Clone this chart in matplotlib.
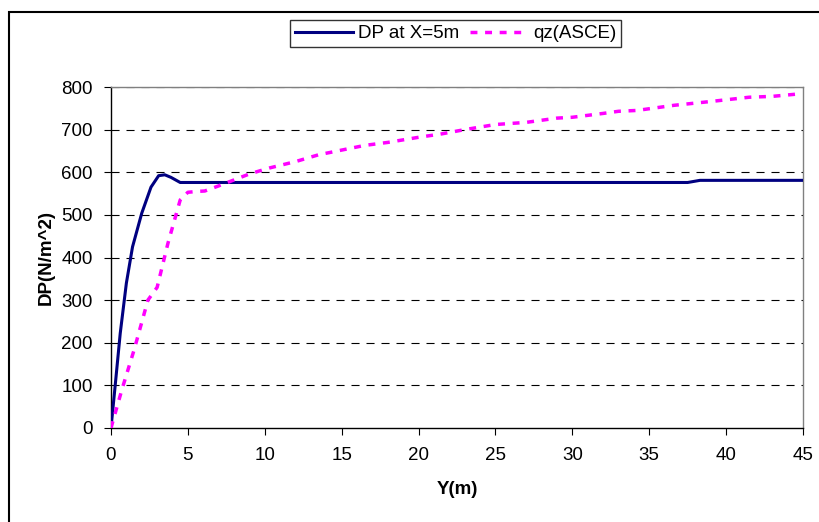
import matplotlib
matplotlib.use("Agg")
import matplotlib.pyplot as plt
from matplotlib.patches import Rectangle

# DP at X=5m (navy solid)
dp_y = [0, 0.3, 0.6, 1.0, 1.4, 2.0, 2.6, 3.1, 3.5, 3.9, 4.5, 10, 20, 30, 37.5, 38.3, 45]
dp_val = [0, 110, 222, 340, 425, 504, 565, 592, 594, 588, 576, 576, 576, 576, 576, 581, 581]

# qz (ASCE) (magenta dashed)
qz_y = [0, 0.7, 1.5, 2.4, 3.0, 3.7, 4.5, 5.0, 5.6, 6.1, 7.0, 8.0, 9.0, 10.3, 12.0, 13.5,
        15.0, 16.5, 18.0, 20.0, 21.5, 23.0, 25.0, 27.0, 29.0, 30.0, 32.0, 33.0, 34.2,
        36.6, 39.0, 41.5, 43.0, 44.5]
qz_val = [0, 89, 183, 300, 330, 433, 535, 553, 555, 556, 568, 582, 596, 610, 625, 641,
          652, 663, 670, 682, 690, 700, 712, 717, 727, 729, 738, 743, 745,
          757, 766, 776, 778, 783]

x_ticks = [0, 5, 10, 15, 20, 25, 30, 35, 40, 45]
y_ticks = [0, 100, 200, 300, 400, 500, 600, 700, 800]

plt.rcParams["font.family"] = ["Liberation Sans", "DejaVu Sans"]
plt.rcParams["lines.scale_dashes"] = False

W, H = 819, 522
fig = plt.figure(figsize=(W / 100, H / 100), dpi=100)
ax = fig.add_axes([111 / W, 1 - 428 / H, (803 - 111) / W, (428 - 87) / H])

for v in y_ticks[1:]:
    ax.axhline(v, color="black", lw=0.8, linestyle=(0, (5.8, 5.0)), zorder=1)

ax.plot(dp_y, dp_val, color="#000080", lw=2.2, label="DP at X=5m", zorder=3,
        solid_joinstyle="round")
ax.plot(qz_y, qz_val, color="#FF00FF", lw=2.5, linestyle=(0, (5.0, 5.5)),
        label="qz(ASCE)", zorder=3)

ax.set_xlim(0, 45)
ax.set_ylim(0, 800)
ax.set_xticks(x_ticks)
ax.set_yticks(y_ticks)
ax.tick_params(axis="both", direction="out", length=5, width=0.8, labelsize=13.5)
ax.tick_params(axis="x", pad=9)
ax.tick_params(axis="y", pad=8)

ax.spines["left"].set_color("black")
ax.spines["bottom"].set_color("black")
ax.spines["top"].set_color("#808080")
ax.spines["right"].set_color("#808080")
for s in ax.spines.values():
    s.set_linewidth(1.0)

ax.set_xlabel("Y(m)", fontsize=13.5, fontweight="bold", labelpad=12)
ax.set_ylabel("DP(N/m^2)", fontsize=13.5, fontweight="bold", labelpad=5)

leg = fig.legend(loc="center", bbox_to_anchor=(455.5 / W, 1 - 33.5 / H), ncol=2,
                 fontsize=13.5, frameon=True, fancybox=False, handlelength=3.1,
                 handletextpad=0.25, columnspacing=0.6, borderpad=0.25,
                 borderaxespad=0)
leg.get_frame().set_edgecolor("black")
leg.get_frame().set_linewidth(1.0)

# outer chart frame
fig.patches.append(Rectangle((9 / W, -0.5), 2, 1.5 - 12 / H, transform=fig.transFigure,
                             fill=False, edgecolor="black", lw=1.5))

fig.savefig("out.png", dpi=100)
